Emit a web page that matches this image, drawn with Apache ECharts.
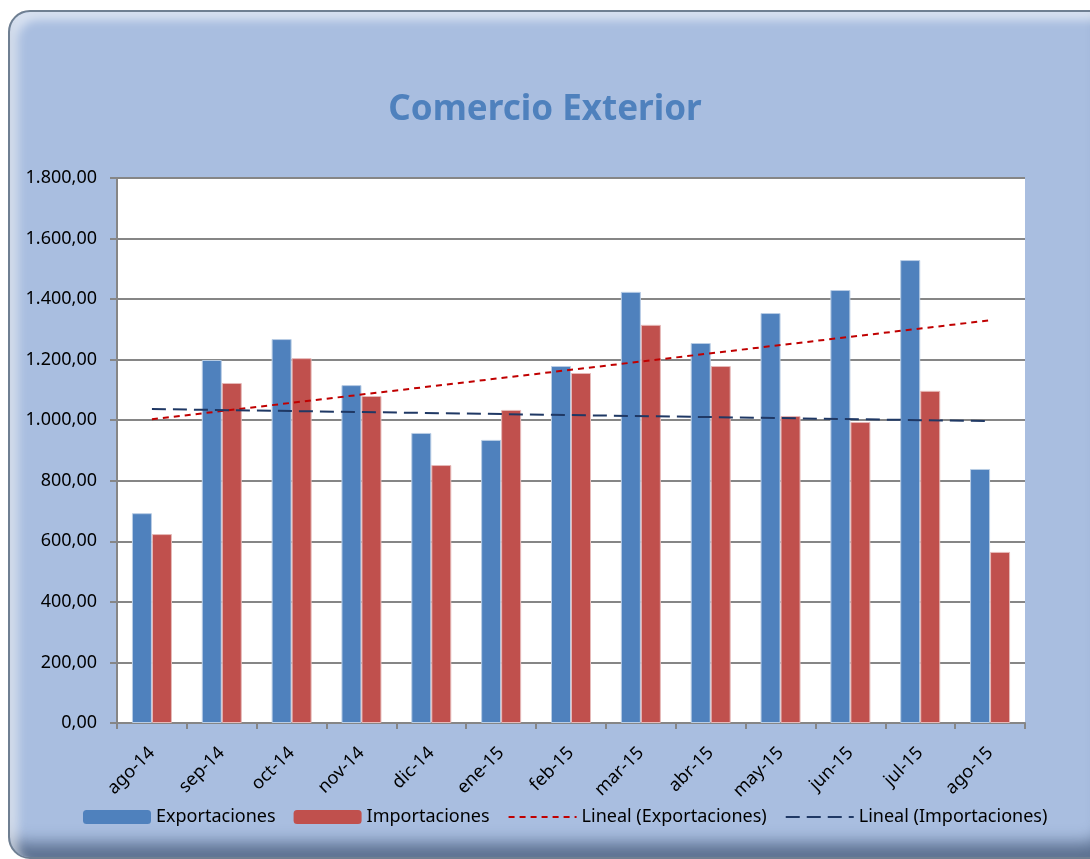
<!DOCTYPE html>
<html>
<head>
<meta charset="utf-8">
<script src="https://cdn.jsdelivr.net/npm/echarts@6/dist/echarts.min.js"></script>
<style>
    html, body { margin: 0; padding: 0; background: #ffffff; }
    #frame {
        position: absolute; left: 8px; top: 10px; width: 1100px; height: 845px;
        border-radius: 22px; background: #a9bee0;
        border: 2px solid #6f7f92;
        box-shadow: inset 8px 8px 10px rgba(255,255,255,0.55), inset -6px -14px 16px rgba(40,60,90,0.6);
    }
    #chart { position: absolute; left: 0; top: 0; width: 1090px; height: 859px; }
</style>
</head>
<body>
<div id="frame"></div>
<div id="chart"></div>
<script>
// meses
const categories = ['ago-14', 'sep-14', 'oct-14', 'nov-14', 'dic-14', 'ene-15', 'feb-15',
    'mar-15', 'abr-15', 'may-15', 'jun-15', 'jul-15', 'ago-15'];
const exportaciones = [693, 1199, 1268, 1116, 958, 935, 1179, 1424, 1255, 1354, 1430, 1529, 839];
const importaciones = [624, 1123, 1205, 1080, 852, 1034, 1156, 1315, 1179, 1014, 994, 1097, 565];
// extremos de las líneas de tendencia
const tendExport = [[0, 1003], [12, 1330]];
const tendImport = [[0, 1037], [12, 997]];

const fontFam = '"Noto Sans", "DejaVu Sans", sans-serif';

function fmtNum(v) {
    const parts = v.toFixed(2).split('.');
    const ent = parts[0].replace(/\B(?=(\d{3})+(?!\d))/g, '.');
    return ent + ',' + parts[1];
}

const chart = echarts.init(document.getElementById('chart'));
chart.setOption({
    animation: false,
    title: {
        text: 'Comercio Exterior',
        left: 'center',
        top: 88,
        textStyle: { color: '#4f81bd', fontSize: 35, fontWeight: 'bold', fontFamily: fontFam }
    },
    grid: {
        left: 117, right: 65, top: 178, bottom: 136,
        show: true, backgroundColor: '#ffffff', borderWidth: 0
    },
    legend: {
        bottom: 28,
        left: 78,
        itemWidth: 68,
        itemHeight: 14,
        itemGap: 18,
        textStyle: { fontSize: 18, color: '#000', fontFamily: fontFam },
        data: [
            { name: 'Exportaciones', itemStyle: { borderWidth: 0 } },
            { name: 'Importaciones', itemStyle: { borderWidth: 0 } },
            { name: 'Lineal (Exportaciones)', itemStyle: { opacity: 0 } },
            { name: 'Lineal (Importaciones)', itemStyle: { opacity: 0 } }
        ]
    },
    xAxis: {
        type: 'category',
        data: categories,
        axisLine: { lineStyle: { color: '#868686', width: 2 } },
        axisTick: { show: true, length: 6, lineStyle: { color: '#868686', width: 2 } },
        axisLabel: { rotate: 45, color: '#000', fontSize: 18, fontFamily: fontFam, margin: 27 }
    },
    yAxis: {
        type: 'value',
        min: 0, max: 1800, interval: 200,
        axisLine: { show: true, lineStyle: { color: '#868686', width: 2 } },
        axisTick: { show: true, length: 7, lineStyle: { color: '#868686', width: 2 } },
        splitLine: { lineStyle: { color: '#868686', width: 2 } },
        axisLabel: { color: '#000', fontSize: 18, fontFamily: fontFam, margin: 20, formatter: fmtNum }
    },
    series: [
        {
            name: 'Exportaciones',
            type: 'bar',
            data: exportaciones,
            barWidth: 20,
            barGap: '0%',
            itemStyle: { color: '#4f81bd', borderColor: '#b9cde5', borderWidth: 1 }
        },
        {
            name: 'Importaciones',
            type: 'bar',
            data: importaciones,
            barWidth: 20,
            itemStyle: { color: '#c0504d', borderColor: '#e6b9b8', borderWidth: 1 }
        },
        {
            name: 'Lineal (Exportaciones)',
            type: 'line',
            data: tendExport,
            symbol: 'none',
            z: 5,
            lineStyle: { color: '#c00000', width: 2, type: [6, 5] },
            itemStyle: { color: '#c00000' }
        },
        {
            name: 'Lineal (Importaciones)',
            type: 'line',
            data: tendImport,
            symbol: 'none',
            z: 5,
            lineStyle: { color: '#1f3864', width: 2, type: [14, 7] },
            itemStyle: { color: '#1f3864' }
        }
    ]
});
</script>
</body>
</html>
